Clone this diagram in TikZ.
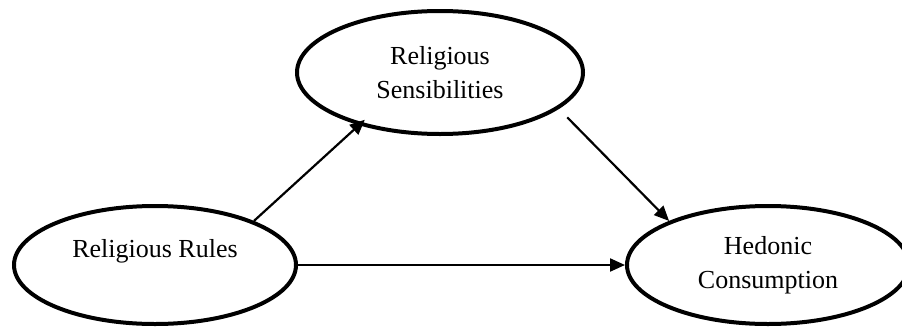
\documentclass[tikz,border=0pt]{standalone}
\usepackage{fontspec}
\setmainfont{Liberation Serif}
\usetikzlibrary{shapes.geometric,arrows.meta}
\tikzset{
  oval/.style={draw=black, ellipse, line width=4pt, inner sep=2pt, align=center,
    font=\fontsize{26}{34}\selectfont},
  label text/.style={font=\fontsize{26}{34}\selectfont, inner sep=0pt},
  link/.style={line width=2.2pt, -{Triangle[length=15pt,width=13pt]}}
}
\begin{document}
\begin{tikzpicture}[x=1pt,y=-1pt]
\useasboundingbox (0,0) rectangle (902,327);
\node[oval, minimum width=282pt, minimum height=118pt] (rr) at (155,265) {};
\node[label text, anchor=base] (rrtext) at (155,257) {Religious Rules};
\node[oval, minimum width=286pt, minimum height=123pt] (rs) at (440,72.5) {Religious\\Sensibilities};
\node[oval, minimum width=282pt, minimum height=118pt] (hc) at (768,265) {Hedonic\\Consumption};
\draw[link, shorten >=-8pt] (rr.24) -- (rs.213.4);
\draw[link, shorten <=12pt] (rs.343.5) -- (hc.156);
\draw[link] (rr.east) -- (hc.west);
\end{tikzpicture}
\end{document}
